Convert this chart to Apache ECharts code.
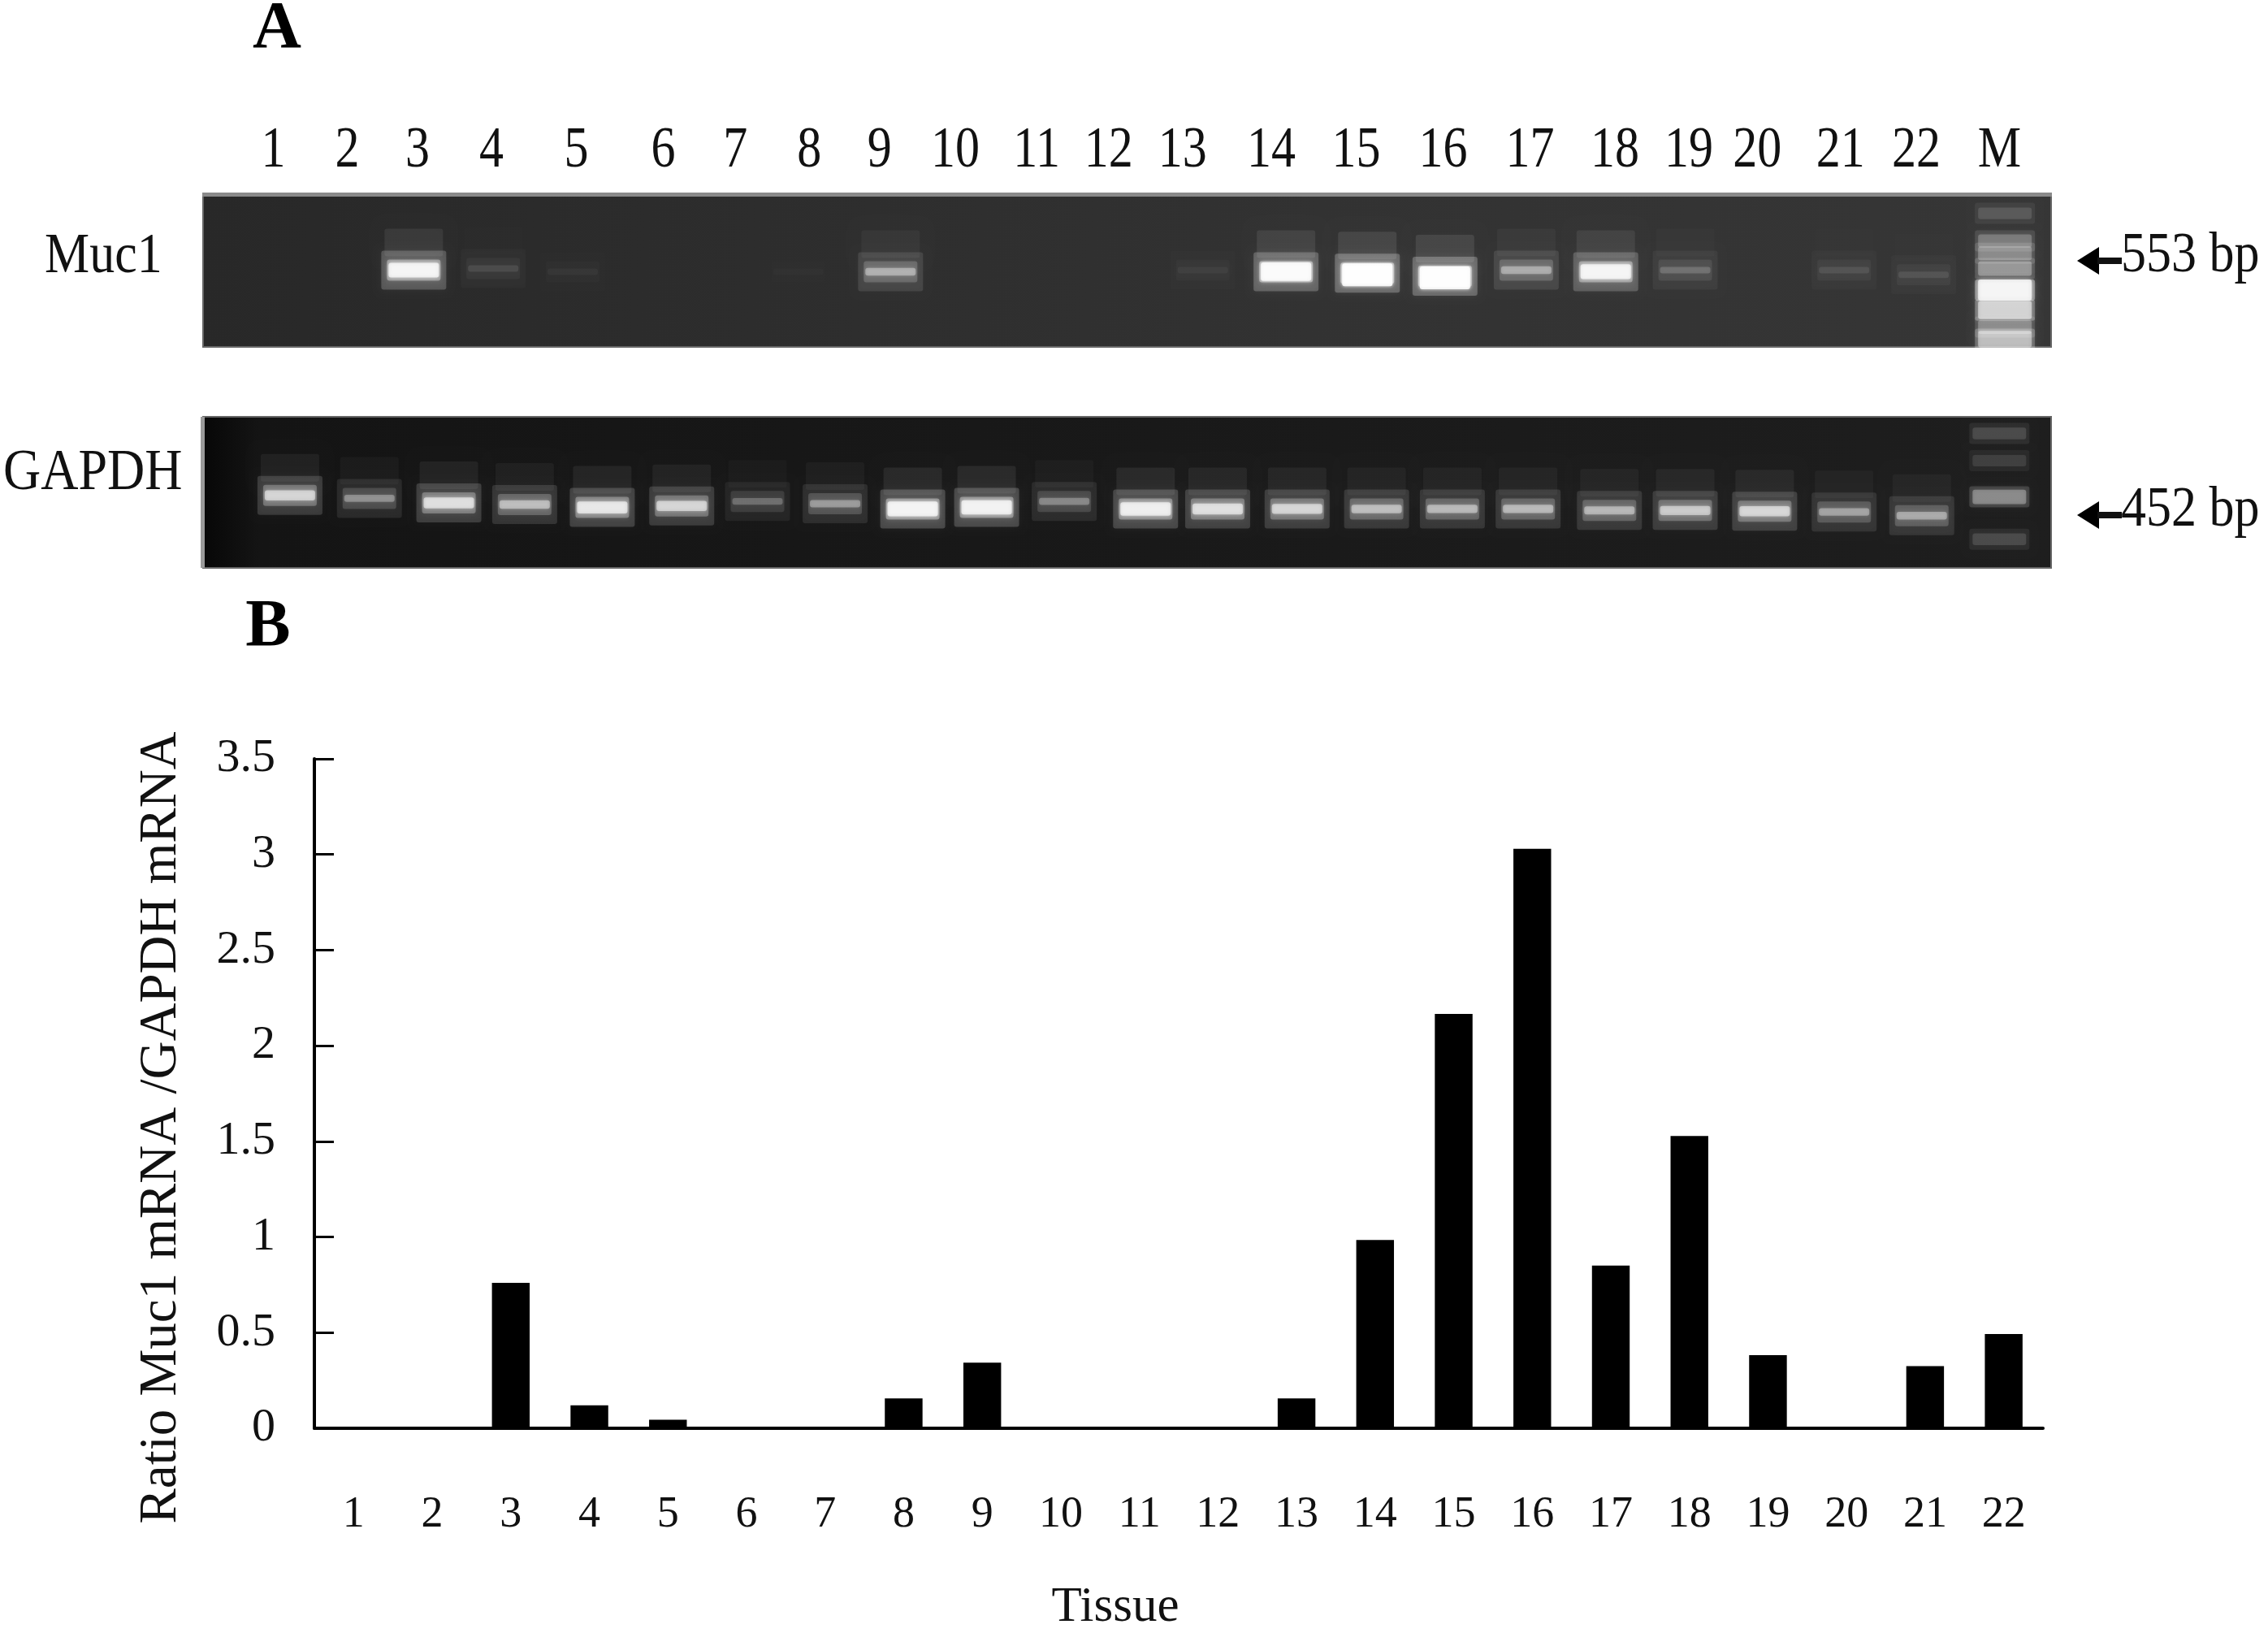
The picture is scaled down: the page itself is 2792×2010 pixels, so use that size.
<!DOCTYPE html>
<html>
<head>
<meta charset="utf-8">
<title>Muc1 mRNA</title>
<script src="https://cdn.jsdelivr.net/npm/echarts@6/dist/echarts.min.js"></script>
<style>
  html, body { margin: 0; padding: 0; background: #fff; }
  #main { width: 2792px; height: 2010px; }
</style>
</head>
<body>
<div id="main"></div>
<script>
// B: bar chart values
const tissues = ['1','2','3','4','5','6','7','8','9','10','11','12','13','14','15','16','17','18','19','20','21','22']
const ratio = [0, 0, 0.76, 0.12, 0.045, 0, 0, 0.156, 0.343, 0, 0, 0, 0.156, 0.984, 2.166, 3.03, 0.851, 1.528, 0.382, 0, 0.325, 0.493]

// A: gel readings, x and y in percent of the gel, strength 0-1
const laneNames = ['1','2','3','4','5','6','7','8','9','10','11','12','13','14','15','16','17','18','19','20','21','22','M']
const laneLabelX = [3.8, 7.8, 11.6, 15.6, 20.2, 24.9, 28.8, 32.8, 36.6, 40.7, 45.1, 49.0, 53.0, 57.8, 62.4, 67.1, 71.8, 76.4, 80.4, 84.1, 88.6, 92.7, 97.2]

const muc1X = [2.8, 7.1, 11.4, 15.7, 20.0, 24.3, 28.2, 32.2, 37.2, 41.5, 45.8, 50.0, 54.1, 58.6, 63.0, 67.2, 71.6, 75.9, 80.2, 84.5, 88.8, 93.1]
const muc1Y = [50, 50, 50, 49, 51, 50, 50, 51, 51, 50, 50, 50, 50, 51, 52, 54, 50, 51, 50, 50, 50, 53]
const muc1Level = [0, 0, 0.8, 0.1, 0.04, 0, 0, 0.02, 0.42, 0, 0, 0, 0.05, 0.9, 1, 1, 0.4, 0.8, 0.2, 0, 0.1, 0.1]

const gapdhX = [4.7, 9.0, 13.3, 17.4, 21.6, 25.9, 30.0, 34.2, 38.4, 42.4, 46.6, 51.0, 54.9, 59.2, 63.5, 67.6, 71.7, 76.1, 80.2, 84.5, 88.8, 93.0]
const gapdhY = [52, 54, 57, 58, 60, 59, 56, 57.5, 61, 60, 56, 61, 61, 61, 61, 61, 61, 62, 62, 62.5, 63, 65.5]
const gapdhLevel = [0.6, 0.35, 0.65, 0.5, 0.7, 0.6, 0.25, 0.38, 0.8, 0.78, 0.32, 0.75, 0.65, 0.6, 0.5, 0.48, 0.48, 0.47, 0.55, 0.6, 0.4, 0.42]

// marker lane
const muc1MarkerX = 97.5
const muc1MarkerY = [13, 31, 39, 49, 63, 76, 87, 95]
const muc1MarkerLevel = [0.16, 0.3, 0.36, 0.42, 1, 0.72, 0.36, 0.6]
const gapdhMarkerX = 97.2
const gapdhMarkerY = [11, 29, 53, 81]
const gapdhMarkerLevel = [0.18, 0.14, 0.42, 0.18]

const font = 'Liberation Serif'
const white = a => 'rgba(255,255,255,' + a + ')'

function zip(x, y, level) {
  return x.map((v, i) => [v, y[i], level[i]])
}

function box(cx, cy, w, h, alpha, blur) {
  return {
    type: 'rect',
    shape: { x: cx - w / 2, y: cy - h / 2, width: w, height: h, r: 3 },
    style: { fill: white(alpha), shadowBlur: blur, shadowColor: white(Math.min(1, alpha * 1.4)) }
  }
}

function renderBand(params, api) {
  let level = api.value(2)
  if (!level) return { type: 'group', children: [] }
  let p = api.coord([api.value(0), api.value(1)])
  return {
    type: 'group',
    children: [
      box(p[0], p[1] - 34, 72, 34, 0.09 * level, 16),
      box(p[0], p[1], 80, 48, 0.24 * level, 10),
      box(p[0], p[1], 66, 26, 0.42 * level, 6),
      box(p[0], p[1] + (level > 0.95 ? 2 : 0), 62, 8 + 20 * Math.pow(level, 3), 0.85 * level, 4)
    ]
  }
}

function renderMarker(params, api) {
  let level = api.value(2)
  let p = api.coord([api.value(0), api.value(1)])
  return {
    type: 'group',
    children: [
      box(p[0], p[1], 74, 26, 0.35 * level, 10),
      box(p[0], p[1], 66, 12 + 14 * level, 0.7 * level, 5)
    ]
  }
}

function renderLaneName(params, api) {
  let p = api.coord([api.value(0), api.value(1)])
  return {
    type: 'text',
    x: p[0],
    y: p[1],
    scaleY: 1.2,
    style: { text: laneNames[params.dataIndex], fontFamily: font, fontSize: 60, fill: '#111', align: 'center', verticalAlign: 'middle' }
  }
}

function sideText(text, x, y, size, extra) {
  return Object.assign({
    type: 'text',
    x: x,
    y: y,
    scaleY: 1.12,
    style: { text: text, fontFamily: font, fontSize: size, fill: '#111', align: 'left', verticalAlign: 'middle' }
  }, extra)
}

function arrow(y) {
  return {
    type: 'group',
    children: [
      { type: 'polygon', shape: { points: [[2557, y], [2584, y - 17], [2584, y + 17]] }, style: { fill: '#000' } },
      { type: 'rect', shape: { x: 2582, y: y - 4, width: 30, height: 8 }, style: { fill: '#111' } }
    ]
  }
}

let myChart = echarts.init(document.querySelector('#main'), null, { renderer: 'canvas' })

myChart.setOption({
  animation: false,
  backgroundColor: '#fff',
  grid: [
    { left: 387, top: 934, width: 2128, height: 838 },
    {
      left: 250, top: 238, width: 2275, height: 189, show: true, borderWidth: 2, borderColor: '#666', z: 1,
      backgroundColor: new echarts.graphic.LinearGradient(0, 0, 1, 1, [
        { offset: 0, color: '#282828' },
        { offset: 0.6, color: '#323232' },
        { offset: 1, color: '#363636' }
      ])
    },
    {
      left: 250, top: 513, width: 2275, height: 186, show: true, borderWidth: 2, borderColor: '#666', z: 1,
      backgroundColor: new echarts.graphic.LinearGradient(0, 0, 1, 0, [
        { offset: 0, color: '#070707' },
        { offset: 0.03, color: '#141414' },
        { offset: 1, color: '#1e1e1e' }
      ])
    }
  ],
  xAxis: [
    {
      type: 'category',
      data: tissues,
      name: 'Tissue',
      nameLocation: 'middle',
      nameGap: 190,
      nameTextStyle: { fontFamily: font, fontSize: 61, color: '#111', padding: [0, 156, 0, 0] },
      axisLine: { lineStyle: { color: '#000', width: 4 } },
      axisTick: { inside: true, length: 20, lineStyle: { color: '#000', width: 3 } },
      axisLabel: { fontFamily: font, fontSize: 54, color: '#111', margin: 80 },
      splitLine: { show: false }
    },
    { gridIndex: 1, type: 'value', min: 0, max: 100, show: false },
    { gridIndex: 2, type: 'value', min: 0, max: 100, show: false }
  ],
  yAxis: [
    {
      type: 'value',
      min: 0,
      max: 3.5,
      interval: 0.5,
      name: 'Ratio Muc1 mRNA /GAPDH mRNA',
      nameLocation: 'middle',
      nameGap: 156,
      nameTextStyle: { fontFamily: font, fontSize: 65, color: '#111', padding: [0, 84, 0, 0] },
      axisLine: { show: true, lineStyle: { color: '#000', width: 4 } },
      axisTick: { show: true, inside: true, length: 24, lineStyle: { color: '#000', width: 3 } },
      axisLabel: { fontFamily: font, fontSize: 58, color: '#111', margin: 48, padding: [24, 0, 0, 0] },
      splitLine: { show: false }
    },
    { gridIndex: 1, type: 'value', min: 0, max: 100, inverse: true, show: false },
    { gridIndex: 2, type: 'value', min: 0, max: 100, inverse: true, show: false }
  ],
  series: [
    { type: 'bar', name: 'Ratio', data: ratio, barWidth: '48%', itemStyle: { color: '#000' }, silent: true },
    {
      type: 'custom', name: 'Muc1', xAxisIndex: 1, yAxisIndex: 1, z: 3, silent: true,
      data: zip(muc1X, muc1Y, muc1Level), renderItem: renderBand
    },
    {
      type: 'custom', name: 'Muc1 marker', xAxisIndex: 1, yAxisIndex: 1, z: 3, silent: true,
      data: muc1MarkerY.map((y, i) => [muc1MarkerX, y, muc1MarkerLevel[i]]), renderItem: renderMarker
    },
    {
      type: 'custom', name: 'GAPDH', xAxisIndex: 2, yAxisIndex: 2, z: 3, silent: true,
      data: zip(gapdhX, gapdhY, gapdhLevel), renderItem: renderBand
    },
    {
      type: 'custom', name: 'GAPDH marker', xAxisIndex: 2, yAxisIndex: 2, z: 3, silent: true,
      data: gapdhMarkerY.map((y, i) => [gapdhMarkerX, y, gapdhMarkerLevel[i]]), renderItem: renderMarker
    },
    {
      type: 'custom', name: 'Lanes', xAxisIndex: 1, yAxisIndex: 1, z: 3, silent: true,
      data: laneLabelX.map(x => [x, -27.5]), renderItem: renderLaneName
    }
  ],
  graphic: [
    { type: 'rect', z: 10, shape: { x: 249, y: 237, width: 2277, height: 5 }, style: { fill: '#8a8a8a' } },
    { type: 'rect', z: 10, shape: { x: 247, y: 513, width: 5, height: 186 }, style: { fill: '#9a9a9a' } },
    { type: 'text', z: 10, x: 341, y: 37, style: { text: 'A', fontFamily: font, fontWeight: 'bold', fontSize: 83, fill: '#000', align: 'center', verticalAlign: 'middle' } },
    { type: 'text', z: 10, x: 330, y: 773, style: { text: 'B', fontFamily: font, fontWeight: 'bold', fontSize: 83, fill: '#000', align: 'center', verticalAlign: 'middle' } },
    sideText('Muc1', 55, 317, 62, { z: 10 }),
    sideText('GAPDH', 4, 583, 64, { z: 10 }),
    sideText('553 bp', 2611, 316, 62, { z: 10 }),
    sideText('452 bp', 2611, 629, 62, { z: 10 }),
    Object.assign(arrow(321), { z: 10 }),
    Object.assign(arrow(634), { z: 10 })
  ]
})

window.addEventListener('resize', () => {
  myChart.resize()
})
</script>
</body>
</html>
